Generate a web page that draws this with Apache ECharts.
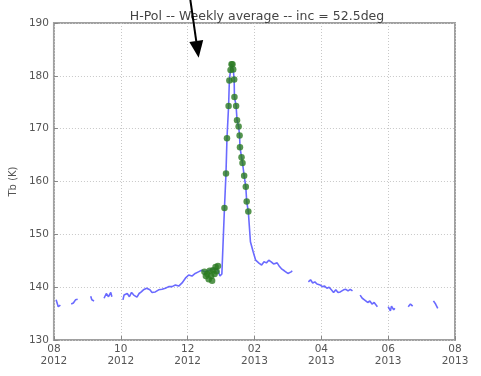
<!DOCTYPE html>
<html>
<head>
<meta charset="utf-8">
<script src="https://cdn.jsdelivr.net/npm/echarts@6/dist/echarts.min.js"></script>
<style>
  html, body { margin: 0; padding: 0; background: #fff; }
  #chart { width: 481px; height: 376px; }
</style>
</head>
<body>
<div id="chart"></div>
<script>
// tick labels on the x axis (month / year), every 2 months from Aug 2012
const xTickLabels = ['08\n2012', '10\n2012', '12\n2012', '02\n2013', '04\n2013', '06\n2013', '08\n2013'];

// weekly averaged Tb, split where the record has gaps
const blueSegments = [
    [['2012-08-03', 137.6], ['2012-08-05', 136.3], ['2012-08-07', 136.6]],
    [['2012-08-17', 136.8], ['2012-08-19', 137.0], ['2012-08-21', 137.6], ['2012-08-23', 137.7]],
    [['2012-09-04', 138.3], ['2012-09-05', 137.6], ['2012-09-07', 137.4]],
    [['2012-09-16', 137.9], ['2012-09-18', 138.8], ['2012-09-20', 138.2], ['2012-09-22', 139.0], ['2012-09-23', 138.2]],
    [
        ['2012-10-03', 137.6], ['2012-10-04', 138.5], ['2012-10-07', 138.8], ['2012-10-09', 138.2], ['2012-10-11', 139.0],
        ['2012-10-13', 138.5], ['2012-10-16', 138.1], ['2012-10-18', 138.8], ['2012-10-20', 139.1], ['2012-10-22', 139.5],
        ['2012-10-25', 139.8], ['2012-10-28', 139.5], ['2012-10-30', 139.0],
        ['2012-11-02', 139.1], ['2012-11-05', 139.5], ['2012-11-08', 139.6], ['2012-11-11', 139.8], ['2012-11-14', 140.1],
        ['2012-11-17', 140.1], ['2012-11-20', 140.4], ['2012-11-23', 140.2], ['2012-11-26', 140.8], ['2012-11-29', 141.7],
        ['2012-12-02', 142.3], ['2012-12-05', 142.1], ['2012-12-08', 142.6], ['2012-12-11', 142.9], ['2012-12-14', 143.2],
        ['2012-12-17', 142.9], ['2012-12-21', 143.2], ['2012-12-26', 143.6], ['2012-12-29', 143.2], ['2012-12-31', 142.1],
        ['2013-01-01 18', 142.5], ['2013-01-04 04', 155.0], ['2013-01-05 14', 161.5], ['2013-01-06 12', 168.2],
        ['2013-01-08 00', 174.3], ['2013-01-08 17', 179.1], ['2013-01-09 19', 181.1], ['2013-01-10 17', 182.2],
        ['2013-01-11 14', 182.2], ['2013-01-12 07', 181.2], ['2013-01-13 04', 179.3], ['2013-01-13 10', 176.0],
        ['2013-01-14 23', 174.3], ['2013-01-15 20', 171.6], ['2013-01-17 07', 170.4], ['2013-01-18 05', 168.7],
        ['2013-01-18 13', 166.5], ['2013-01-20 00', 164.6], ['2013-01-20 22', 163.5], ['2013-01-22 10', 161.1],
        ['2013-01-23 23', 159.0], ['2013-01-24 19', 156.2], ['2013-01-26 07', 154.3], ['2013-01-28 06', 148.6],
        ['2013-01-30 19', 146.7],
        ['2013-02-02', 145.1], ['2013-02-05', 144.5], ['2013-02-07', 144.2], ['2013-02-09', 144.8], ['2013-02-11', 144.6],
        ['2013-02-13', 145.1], ['2013-02-15', 144.8], ['2013-02-17', 144.4], ['2013-02-20', 144.6], ['2013-02-22', 143.9],
        ['2013-02-24', 143.4], ['2013-02-26', 143.1], ['2013-03-01', 142.6], ['2013-03-02', 142.3], ['2013-03-04', 142.9],
        ['2013-03-05', 143.1]
    ],
    [
        ['2013-03-20', 141.0], ['2013-03-22', 141.4], ['2013-03-24', 140.8], ['2013-03-26', 141.0], ['2013-03-28', 140.6],
        ['2013-03-31', 140.4], ['2013-04-02', 140.1], ['2013-04-04', 140.2], ['2013-04-06', 139.8], ['2013-04-08', 140.0],
        ['2013-04-10', 139.5], ['2013-04-12', 139.0], ['2013-04-14', 139.5], ['2013-04-16', 139.0], ['2013-04-18', 139.1],
        ['2013-04-21', 139.5], ['2013-04-23', 139.6], ['2013-04-25', 139.3], ['2013-04-27', 139.6], ['2013-04-29', 139.3]
    ],
    [
        ['2013-05-06', 138.5], ['2013-05-08', 137.9], ['2013-05-10', 137.6], ['2013-05-13', 137.1], ['2013-05-15', 137.4],
        ['2013-05-17', 136.8], ['2013-05-19', 137.1], ['2013-05-22', 136.3]
    ],
    [['2013-06-01', 136.3], ['2013-06-03', 135.5], ['2013-06-04', 136.4], ['2013-06-06', 135.7], ['2013-06-07', 136.0]],
    [['2013-06-19', 136.3], ['2013-06-21', 136.8], ['2013-06-23', 136.4]],
    [['2013-07-12', 137.4], ['2013-07-14', 136.8], ['2013-07-16', 136.0]]
];

// flagged samples (green dots)
const greenPoints = [
    ['2012-12-16 14', 142.9], ['2012-12-17 22', 142.1], ['2012-12-19 07', 142.5], ['2012-12-20 14', 141.5],
    ['2012-12-21 12', 143.1], ['2012-12-22 20', 142.1], ['2012-12-23 17', 141.2], ['2012-12-24 14', 143.2],
    ['2012-12-26 00', 142.5], ['2012-12-26 22', 143.8], ['2012-12-27 19', 143.0], ['2012-12-29 03', 144.0],
    ['2013-01-04 04', 155.0], ['2013-01-05 14', 161.5], ['2013-01-06 12', 168.2], ['2013-01-08 00', 174.3],
    ['2013-01-08 17', 179.1], ['2013-01-09 19', 181.1], ['2013-01-10 17', 182.2], ['2013-01-11 14', 182.2],
    ['2013-01-12 07', 181.2], ['2013-01-13 04', 179.3], ['2013-01-13 10', 176.0], ['2013-01-14 23', 174.3],
    ['2013-01-15 20', 171.6], ['2013-01-17 07', 170.4], ['2013-01-18 05', 168.7], ['2013-01-18 13', 166.5],
    ['2013-01-20 00', 164.6], ['2013-01-20 22', 163.5], ['2013-01-22 10', 161.1], ['2013-01-23 23', 159.0],
    ['2013-01-24 19', 156.2], ['2013-01-26 07', 154.3]
];

// annotation arrow (start, tip) in data coords
const arrowFrom = ['2012-12-03 12', 194.4];
const arrowTo = ['2012-12-11 06', 183.4];

// months elapsed since 2012-08-01, fractional
const toMonth = (s) => {
    const p = s.split(/[- ]/).map(Number);
    const y = p[0], m = p[1], d = p[2], h = p[3] || 0;
    const dim = new Date(Date.UTC(y, m, 0)).getUTCDate();
    return (y - 2012) * 12 + (m - 8) + (d - 1 + h / 24) / dim;
};
const conv = (arr) => arr.map(([t, v]) => [toMonth(t), v]);

const labelFont = { fontFamily: 'DejaVu Sans', fontSize: 10.5, color: '#555' };

const series = blueSegments.map(seg => ({
    type: 'line',
    data: conv(seg),
    showSymbol: false,
    lineStyle: { color: '#6a6aff', width: 1.6 },
    z: 2,
    silent: true
}));

series.push({
    type: 'scatter',
    data: conv(greenPoints),
    symbolSize: 6.5,
    itemStyle: { color: '#2a7a22' },
    z: 3,
    silent: true
});

const chart = echarts.init(document.getElementById('chart'));
chart.setOption({
    animation: false,
    title: {
        text: 'H-Pol -- Weekly average -- inc = 52.5deg',
        left: 252,
        textAlign: 'center',
        top: 5,
        textStyle: { fontFamily: 'DejaVu Sans', fontSize: 12.5, fontWeight: 'normal', color: '#444' }
    },
    grid: {
        left: 49, right: 26, top: 23, bottom: 36,
        show: true, borderColor: '#a0a0a0', borderWidth: 2, backgroundColor: '#fff'
    },
    xAxis: {
        type: 'value',
        min: 0, max: 12, interval: 2,
        axisLine: { show: false },
        axisTick: { show: true, inside: true, length: 4, lineStyle: { color: '#888' } },
        splitLine: { show: true, lineStyle: { color: '#c8c8c8', type: [1, 2] } },
        axisLabel: {
            ...labelFont,
            lineHeight: 12,
            margin: 3,
            formatter: (v) => xTickLabels[Math.round(v / 2)]
        }
    },
    yAxis: {
        type: 'value',
        min: 130, max: 190, interval: 10,
        name: 'Tb (K)',
        nameLocation: 'middle',
        nameGap: 28,
        nameTextStyle: { fontFamily: 'DejaVu Sans', fontSize: 10, color: '#555' },
        axisLine: { show: false },
        axisTick: { show: true, inside: true, length: 4, lineStyle: { color: '#888' } },
        splitLine: { show: true, lineStyle: { color: '#c8c8c8', type: [1, 2] } },
        axisLabel: { ...labelFont, margin: 5 }
    },
    series
});

// annotation arrow: endpoints go through the chart's own scales
const p0 = chart.convertToPixel({ gridIndex: 0 }, [toMonth(arrowFrom[0]), arrowFrom[1]]);
const p1 = chart.convertToPixel({ gridIndex: 0 }, [toMonth(arrowTo[0]), arrowTo[1]]);
const dx = p1[0] - p0[0], dy = p1[1] - p0[1];
const len = Math.hypot(dx, dy);
const ux = dx / len, uy = dy / len;
const headLen = 17, headHalf = 7;
const bx = p1[0] - ux * headLen, by = p1[1] - uy * headLen;

chart.setOption({
    graphic: [
        {
            type: 'line',
            shape: { x1: p0[0], y1: p0[1], x2: bx, y2: by },
            style: { stroke: '#000', lineWidth: 2 },
            z: 10,
            silent: true
        },
        {
            type: 'polygon',
            shape: { points: [p1, [bx - uy * headHalf, by + ux * headHalf], [bx + uy * headHalf, by - ux * headHalf]] },
            style: { fill: '#000' },
            z: 10,
            silent: true
        }
    ]
});
</script>
</body>
</html>
